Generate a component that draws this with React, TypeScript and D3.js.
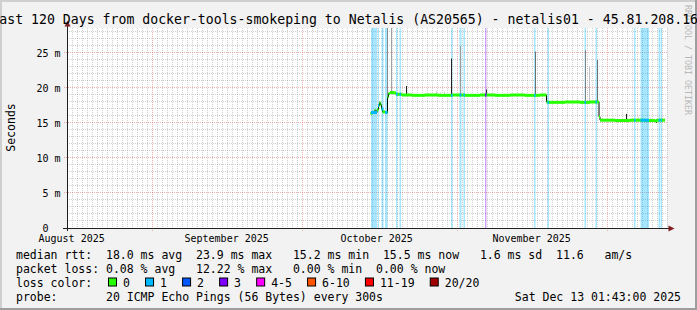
import React from "react";
import * as d3 from "d3";

// ---------- data ----------
const startTime = new Date(Date.UTC(2025, 7, 15, 1, 43));
const endTime = new Date(Date.UTC(2025, 11, 13, 1, 43));
const yMax = 28.57; // ms

const yTicks = [0, 5, 10, 15, 20, 25];
const monthLabels = ["August 2025", "September 2025", "October 2025", "November 2025"];
const monthLabelDates = ["2025-08-16", "2025-09-16", "2025-10-16", "2025-11-16"];

// median rtt: day offset since start, value in ms
const medianDays = [
  60.7, 61.1, 61.5, 61.7, 62.0, 62.3, 62.5, 62.7, 62.9, 63.1, 63.6, 64.1, 64.3, 64.6, 65.4,
  65.8, 67.0, 69.0, 71.6, 74.2, 77.0, 79.6, 82.6, 85.6, 88.6, 91.6, 94.6, 95.9, 96.2, 99.6,
  102.6, 104.6, 106.4, 106.6, 109.6, 112.6, 115.6, 117.6, 118.0, 119.6,
];
const medianValues = [
  16.4, 16.5, 16.8, 16.5, 16.9, 17.5, 17.9, 17.6, 17.0, 16.6, 16.5, 18.7, 19.2, 19.35, 19.3,
  19.1, 19.0, 18.95, 19.0, 18.95, 19.0, 18.95, 19.0, 18.95, 19.0, 18.95, 19.0, 18.0, 17.95, 18.0,
  17.95, 18.0, 15.9, 15.4, 15.35, 15.4, 15.35, 15.3, 15.4, 15.4,
];

// packet loss periods: start day, end day, loss level index
const lossStart = [60.8, 62.2, 62.9, 63.6, 65.8, 66.5, 76.8, 78.5, 79.3, 83.6, 93.4, 96.1, 103.5, 105.7, 113.4, 114.7, 118.3, 118.7];
const lossEnd = [62.0, 62.4, 63.3, 64.1, 66.1, 66.8, 77.1, 78.9, 79.6, 83.9, 93.7, 96.4, 103.8, 106.0, 113.7, 116.4, 118.6, 119.0];
const lossLevel = [1, 1, 1, 1, 1, 1, 1, 1, 1, 3, 1, 1, 1, 1, 1, 1, 1, 1];

// smoke (ping spread): day, low ms, high ms, shade
const smokeDays = [63.94, 64.74, 67.7, 76.8, 78.6, 83.86, 93.6, 103.6, 104.46, 105.94, 111.8, 117.8, 73.8, 74.6, 75.4, 114.2, 116.6, 119.0];
const smokeLow = [16.5, 19.3, 19.0, 19.0, 19.0, 19.0, 19.0, 18.0, 18.0, 18.0, 15.4, 15.0, 19.0, 19.0, 19.0, 15.4, 15.4, 15.4];
const smokeHigh = [28.57, 28.57, 20.3, 24.2, 26.0, 19.8, 25.2, 25.4, 23.0, 24.0, 16.3, 15.5, 19.5, 19.4, 19.5, 15.8, 15.8, 15.8];
const smokeShade = ["#8a8a8a", "#a0a0a0", "#202020", "#202020", "#9a9a9a", "#303030", "#707070", "#808080", "#c0c0c0", "#707070", "#202020", "#202020", "#d0d0d0", "#d8d8d8", "#d0d0d0", "#d0d0d0", "#d8d8d8", "#d0d0d0"];

const lossLabels = ["0", "1", "2", "3", "4-5", "6-10", "11-19", "20/20"];
const lossColors = ["#26ff00", "#00b8ff", "#0059ff", "#7e00ff", "#ff00ff", "#ff5500", "#ff0000", "#a10000"];

const titleText = "Last 120 Days from docker-tools-smokeping to Netalis (AS20565) - netalis01 - 45.81.208.16";
const legendRow1 = "median rtt:  18.0 ms avg  23.9 ms max   15.2 ms min  15.5 ms now   1.6 ms sd  11.6   am/s";
const legendRow2 = "packet loss: 0.08 % avg   12.22 % max   0.00 % min  0.00 % now";
const legendRow3 = "loss color:";
const legendRow4 = "probe:       20 ICMP Echo Pings (56 Bytes) every 300s";
const dateText = "Sat Dec 13 01:43:00 2025";

// ---------- chart ----------
const W = 697;
const H = 310;
const L = 67, R = 667, T = 28, B = 228;
const MONO = "'DejaVu Sans Mono', monospace";
const CW = 6.94; // legend char width

export default function App() {
  const x = d3.scaleTime().domain([startTime, endTime]).range([L, R]);
  const y = d3.scaleLinear().domain([0, yMax]).range([B, T]);
  const toDate = (d: number) => new Date(startTime.getTime() + d * 864e5);

  const dayTicks = d3.utcDay.range(startTime, endTime);
  const monthTicks = d3.utcMonth.range(startTime, endTime);
  const isMonth = (d: Date) => d.getUTCDate() === 1;

  const minorH: number[] = [];
  for (let v = 1; v < yMax; v++) if (v % 5 !== 0) minorH.push(v);

  const medPts = medianDays.map((d, i) => [x(toDate(d)), y(medianValues[i])] as [number, number]);
  const stepLine = d3.line().curve(d3.curveStepAfter)(medPts) || "";

  const medianAt = (day: number) => {
    const i = Math.max(0, d3.bisectRight(medianDays, day) - 1);
    return medianValues[i];
  };

  let bx = 108.5;
  const boxes = lossLabels.map((lab, i) => {
    const item = { x: bx, lab, color: lossColors[i] };
    bx = bx + 14.5 + lab.length * CW + 15.6;
    return item;
  });

  const px = (v: number) => Math.round(v) + 0.5;
  const pre = { whiteSpace: "pre" } as React.CSSProperties;

  return (
    <svg
      width={W}
      height={H}
      style={{ position: "absolute", left: 0, top: 0, display: "block" }}
      fontFamily={MONO}
    >
      <rect x={0} y={0} width={W} height={H} fill="#f2f2f2" />
      <rect x={0} y={0} width={W} height={2} fill="#cfcfcf" />
      <rect x={0} y={0} width={2} height={H} fill="#cfcfcf" />
      <rect x={0} y={H - 2} width={W} height={2} fill="#9e9e9e" />
      <rect x={W - 2} y={0} width={2} height={H} fill="#9e9e9e" />

      <rect x={L} y={T} width={R - L} height={B - T} fill="#ffffff" />

      <g stroke="rgba(143,143,143,0.42)" strokeWidth={1} strokeDasharray="1,1" fill="none">
        {minorH.map((v) => (
          <line key={"mh" + v} x1={L} x2={R} y1={px(y(v)) - 1} y2={px(y(v)) - 1} />
        ))}
        {dayTicks.filter((d) => !isMonth(d)).map((d) => (
          <line key={"mv" + d.getTime()} x1={px(x(d))} x2={px(x(d))} y1={T} y2={B} />
        ))}
      </g>
      <g stroke="rgba(222,79,79,0.45)" strokeWidth={1} strokeDasharray="1,1" fill="none">
        {yTicks.filter((v) => v > 0).map((v) => (
          <line key={"Mh" + v} x1={L - 3} x2={R} y1={px(y(v)) - 1} y2={px(y(v)) - 1} />
        ))}
        {monthTicks.map((d) => (
          <line key={"Mv" + d.getTime()} x1={px(x(d))} x2={px(x(d))} y1={T} y2={B + 3} />
        ))}
      </g>

      {lossStart.map((s, i) => (
        <rect
          key={"lb" + i}
          x={x(toDate(s))}
          y={T}
          width={Math.max(1, x(toDate(lossEnd[i])) - x(toDate(s)))}
          height={B - T}
          fill={lossColors[lossLevel[i]]}
          opacity={0.35}
        />
      ))}

      {smokeDays.map((d, i) => (
        <rect
          key={"sm" + i}
          x={Math.round(x(toDate(d)))}
          y={y(smokeHigh[i])}
          width={1}
          height={y(smokeLow[i]) - y(smokeHigh[i])}
          fill={smokeShade[i]}
        />
      ))}

      <path d={stepLine} fill="none" stroke="#000" strokeWidth={1} />
      {medPts.slice(0, -1).map((p, i) => (
        <rect
          key={"md" + i}
          x={p[0]}
          y={p[1] - 1.5}
          width={medPts[i + 1][0] - p[0]}
          height={3}
          fill={lossColors[0]}
        />
      ))}
      {lossStart.map((s, i) => {
        const v = medianAt((s + lossEnd[i]) / 2);
        return (
          <rect
            key={"ml" + i}
            x={x(toDate(s))}
            y={y(v) - 1.5}
            width={Math.max(1, x(toDate(lossEnd[i])) - x(toDate(s)))}
            height={3}
            fill={lossColors[lossLevel[i]]}
          />
        );
      })}

      <line x1={L - 4} x2={R + 3} y1={B + 0.5} y2={B + 0.5} stroke="#1f1f1f" />
      <line x1={L + 0.5} x2={L + 0.5} y1={B + 3} y2={T - 3} stroke="#1f1f1f" />
      <polygon points={`${R + 7.5},${B + 0.5} ${R + 1.5},${B - 2.5} ${R + 1.5},${B + 3.5}`} fill="#801f1f" />
      <polygon points={`${L + 0.5},${T - 7.5} ${L - 2.5},${T - 1.5} ${L + 3.5},${T - 1.5}`} fill="#801f1f" />

      <g fontSize={10} fill="#000">
        {yTicks.map((v) => (
          <text key={"yl" + v} x={v === 0 ? 60.5 - 2 * 6.02 : 60.5} y={y(v) + 4} textAnchor="end">
            {v === 0 ? "0" : `${v} m`}
          </text>
        ))}
        {monthLabels.map((lab, i) => (
          <text key={"xl" + i} x={x(new Date(monthLabelDates[i] + "T00:00:00Z"))} y={241.5} textAnchor="middle">
            {lab}
          </text>
        ))}
      </g>

      <text transform="translate(14.5,127.5) rotate(-90)" textAnchor="middle" fontSize={11.5} fill="#000">
        Seconds
      </text>

      <text transform="translate(685,60) rotate(90)" textAnchor="middle" fontSize={8.3} fill="#b8b8b8">
        RRDTOOL / TOBI OETIKER
      </text>

      <text x={-8.6} y={23.5} fontSize={13.2} fill="#000" xmlSpace="preserve" style={pre}>
        {titleText}
      </text>

      <g fontSize={11.5} fill="#000">
        <text x={16} y={258.5} xmlSpace="preserve" style={pre}>{legendRow1}</text>
        <text x={16} y={272.5} xmlSpace="preserve" style={pre}>{legendRow2}</text>
        <text x={16} y={286.5} xmlSpace="preserve" style={pre}>{legendRow3}</text>
        <text x={16} y={300.5} xmlSpace="preserve" style={pre}>{legendRow4}</text>
        <text x={681} y={300.5} textAnchor="end">{dateText}</text>
        {boxes.map((b, i) => (
          <g key={"bx" + i}>
            <rect x={b.x} y={278} width={8} height={8} fill={b.color} stroke="#000" strokeWidth={1} />
            <text x={b.x + 14.5} y={286.5}>{b.lab}</text>
          </g>
        ))}
      </g>
    </svg>
  );
}
